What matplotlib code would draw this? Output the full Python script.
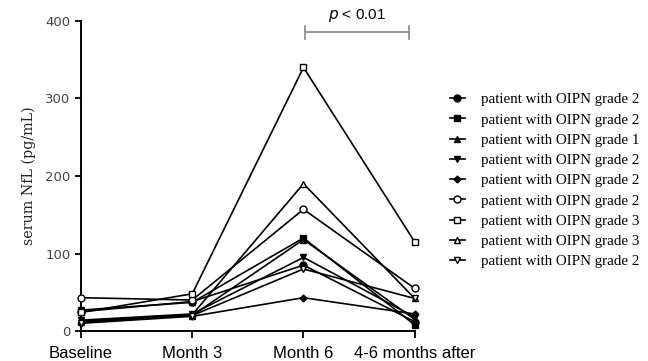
import matplotlib.pyplot as plt

timepoints = ["Baseline", "Month 3", "Month 6", "4-6 months after"]
labels = ["patient with OIPN grade 2", "patient with OIPN grade 2",
          "patient with OIPN grade 1", "patient with OIPN grade 2",
          "patient with OIPN grade 2", "patient with OIPN grade 2",
          "patient with OIPN grade 3", "patient with OIPN grade 3",
          "patient with OIPN grade 2"]
markers = ["o", "s", "^", "v", "D", "o", "s", "^", "v"]
filled = [True, True, True, True, True, False, False, False, False]

p1 = [25, 38, 85, 12]
p2 = [27, 37, 120, 8]
p3 = [12, 20, 118, 15]
p4 = [14, 22, 95, 18]
p5 = [10, 19, 43, 22]
p6 = [43, 40, 157, 55]
p7 = [24, 48, 340, 115]
p8 = [13, 21, 190, 42]
p9 = [11, 20, 80, 42]
series = [p1, p2, p3, p4, p5, p6, p7, p8, p9]

fig = plt.figure(figsize=(6.48, 3.61), dpi=100)
ax = fig.add_axes([0.125, 0.083, 0.515, 0.859])

x = list(range(len(timepoints)))
for vals, m, f, lab in zip(series, markers, filled, labels):
    ms = 3.5 if m == "D" else 5
    ax.plot(x, vals, color="black", lw=1.2, marker=m, ms=ms,
            mfc="black" if f else "white", mec="black", mew=1.0,
            label=lab, clip_on=False, zorder=3)

ax.set_xlim(0, 3)
ax.set_ylim(0, 400)
ax.set_yticks([0, 100, 200, 300, 400])
ax.set_xticks(x)
ax.set_xticklabels(timepoints, fontsize=12, family="Liberation Sans")
ax.tick_params(axis="x", length=5, width=1.3, pad=6)
ax.tick_params(axis="y", length=4, width=1.3, labelsize=9.5, labelcolor="#444444")
for s in ["top", "right"]:
    ax.spines[s].set_visible(False)
for s in ["left", "bottom"]:
    ax.spines[s].set_linewidth(1.4)
ax.set_ylabel("serum NfL (pg/mL)", family="DejaVu Serif", fontsize=10.3,
              color="#222222", labelpad=7)

# significance bracket
bc = "#888888"
ax.plot([2.01, 2.95], [386, 386], color=bc, lw=1.2, clip_on=False)
ax.plot([2.01, 2.01], [377, 393], color=bc, lw=1.2, clip_on=False)
ax.plot([2.95, 2.95], [377, 393], color=bc, lw=1.2, clip_on=False)
ax.text(2.48, 396, "$p$ < 0.01", ha="center", va="bottom", fontsize=11,
        family="Liberation Sans", clip_on=False)

leg = ax.legend(loc="center left", bbox_to_anchor=(1.065, 0.485), frameon=False,
                prop={"family": "Liberation Serif", "size": 10.8},
                handlelength=1.0, labelspacing=0.45, handletextpad=1.1)

fig.savefig("out.png", dpi=100)
